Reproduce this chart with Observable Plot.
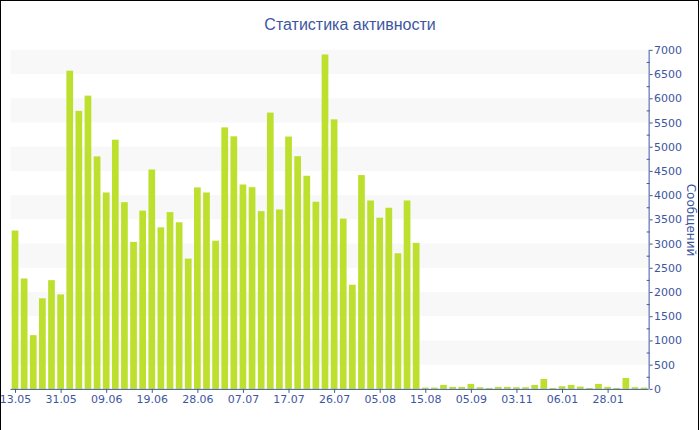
<!DOCTYPE html>
<html><head><meta charset="utf-8">
<script src="https://cdn.jsdelivr.net/npm/d3@7"></script>
<script src="https://cdn.jsdelivr.net/npm/@observablehq/plot@0.6"></script>
<style>
body{margin:0;background:#fff}
#wrap{position:relative;width:699px;height:430px;box-sizing:border-box;border:1px solid #000;border-bottom:none;overflow:hidden;font-family:"DejaVu Sans"}
#chart{position:absolute;left:-1px;top:-1px}
#title{position:absolute;left:-1px;width:700px;top:15px;text-align:center;font:16px "Liberation Sans";color:#3e56a0}
#ylab{position:absolute;left:690px;top:219px;line-height:1;transform:translate(-50%,-50%) rotate(90deg);font:12px "DejaVu Sans";color:#3e56a0;white-space:nowrap}
</style></head><body>
<div id="wrap"><div id="chart"></div><div id="title">Статистика активности</div><div id="ylab">Сообщений</div></div>
<script>
const values = [3270, 2280, 1110, 1870, 2245, 1950, 6570, 5740, 6055, 4800,
  4055, 5145, 3855, 3035, 3680, 4530, 3335, 3650, 3440, 2690,
  4160, 4055, 3060, 5400, 5215, 4220, 4165, 3670, 5705, 3705,
  5210, 4805, 4400, 3865, 6905, 5565, 3515, 2150, 4415, 3890,
  3535, 3740, 2800, 3890, 3015, 27, 27, 82, 41, 41,
  103, 34, 20, 41, 41, 34, 34, 82, 206, 20,
  55, 82, 48, 20, 103, 41, 20, 226, 34, 27];
const xLabels = ["13.05","31.05","09.06","19.06","28.06","07.07","17.07","26.07","05.08","15.08","05.09","03.11","06.01","28.01"];
const xLabelIndex = [0,5,10,15,20,25,30,35,40,45,50,55,60,65];
const yTicks = [0,500,1000,1500,2000,2500,3000,3500,4000,4500,5000,5500,6000,6500,7000];
const yMinor = [250,750,1250,1750,2250,2750,3250,3750,4250,4750,5250,5750,6250,6750];

const blue = "#3e56a0";
const data = values.map((v, i) => ({i, v}));
const stripes = yTicks.filter((t, k) => k % 2 === 1 && t < 7000).map(t => ({lo: t, hi: t + 500}));
const labelAt = new Map(xLabelIndex.map((k, j) => [k, xLabels[j]]));

const chart = Plot.plot({
  width: 700, height: 430,
  marginTop: 50, marginBottom: 40, marginLeft: 10.5, marginRight: 49.5,
  x: {type: "linear", domain: [-0.5, values.length - 0.5]},
  y: {domain: [0, 7000]},
  style: {fontFamily: "DejaVu Sans", fontSize: "11px", color: blue, background: "transparent", overflow: "visible"},
  marks: [
    Plot.rect(stripes, {y1: "lo", y2: "hi", fill: "#f8f8f8"}),
    Plot.rectY(data, {x1: d => d.i - 0.5, x2: d => d.i + 0.5, y: "v", insetLeft: 1.2, insetRight: 1.2, fill: "#bde02f"}),
    Plot.ruleY([0], {stroke: blue}),
    Plot.ruleX([values.length - 0.5], {stroke: blue}),
    Plot.axisX({ticks: xLabelIndex, tickFormat: k => labelAt.get(k), tickSize: 4, tickPadding: 2, label: null}),
    Plot.axisY({anchor: "right", ticks: yTicks, tickFormat: d => String(d), tickSize: 3, tickPadding: 2, label: null}),
    Plot.axisY({anchor: "right", ticks: yMinor, tickFormat: () => "", tickSize: -3, label: null})
  ]
});
document.getElementById("chart").appendChild(chart);
</script>
</body></html>
